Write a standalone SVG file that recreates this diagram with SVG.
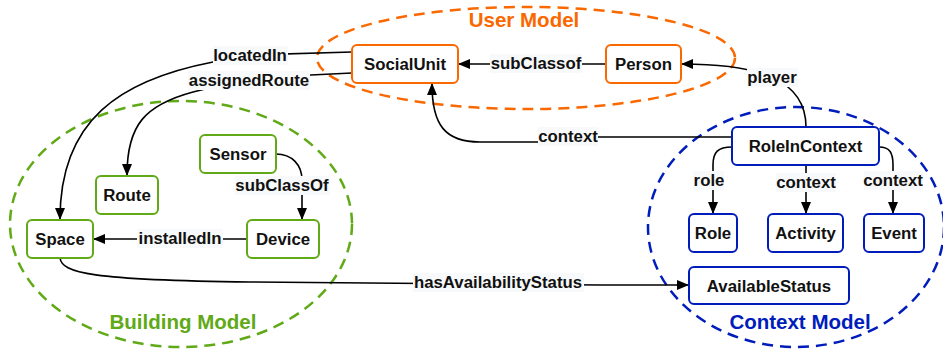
<svg xmlns="http://www.w3.org/2000/svg" width="943" height="352" viewBox="0 0 943 352">
<style>
  .grp { fill: none; stroke-width: 2.5; stroke-dasharray: 11 7; }
  .title { font-family: "Liberation Sans", Arial, sans-serif; font-weight: bold; font-size: 20.5px; text-anchor: middle; }
  .node rect { fill: #ffffff; stroke-width: 2; }
  .node text { font-family: "Liberation Sans", Arial, sans-serif; font-weight: bold; font-size: 16.8px; text-anchor: middle; fill: #111111; }
  .user rect { stroke: #FA6800; }
  .bld rect { stroke: #60A917; }
  .ctx rect { stroke: #001DBC; }
  .edge { fill: none; stroke: #000000; stroke-width: 1.6; }
  .lblbg { fill: #F8F9FA; }
  .lbl { font-family: "Liberation Sans", Arial, sans-serif; font-weight: bold; font-size: 16.8px; text-anchor: middle; fill: #111111; }
</style>
<defs>
  <marker id="arr" markerWidth="12" markerHeight="10" refX="11" refY="5" orient="auto" markerUnits="userSpaceOnUse">
    <path d="M0,0 L12,5 L0,10 Z" fill="#000000"/>
  </marker>
</defs>

<g id="groups">
  <ellipse class="grp" cx="526" cy="58" rx="209" ry="51" stroke="#FA6800"/>
  <text class="title" x="524" y="27" fill="#FA6800">User Model</text>
  <ellipse class="grp" cx="181" cy="224" rx="171" ry="123" stroke="#60A917"/>
  <text class="title" x="183" y="329" fill="#60A917">Building Model</text>
  <ellipse class="grp" cx="796" cy="227" rx="148" ry="120" stroke="#001DBC"/>
  <text class="title" x="800" y="329" fill="#001DBC">Context Model</text>
</g>

<g id="connectors">
  <path class="edge" d="M352 52 L250 55 L213 62 C120 80 60 120 60 219" marker-end="url(#arr)"/>
  <path class="edge" d="M352 73 L250 78 L193 92 C145 105 127 125 127 175" marker-end="url(#arr)"/>
  <path class="edge" d="M606 64 L459 64" marker-end="url(#arr)"/>
  <path class="edge" d="M806 127 C806 80 760 64 682 64" marker-end="url(#arr)"/>
  <path class="edge" d="M732 137 L570 137 L540 142 L480 142 C445 142 432 125 432 84" marker-end="url(#arr)"/>
  <path class="edge" d="M732 147 C718 147 713 152 713 165 L713 213" marker-end="url(#arr)"/>
  <path class="edge" d="M806 165 L806 213" marker-end="url(#arr)"/>
  <path class="edge" d="M879 147 C890 147 893 153 893 165 L893 213" marker-end="url(#arr)"/>
  <path class="edge" d="M276 154 C292 154 302 165 302 180 L302 219" marker-end="url(#arr)"/>
  <path class="edge" d="M247 239 L94 239" marker-end="url(#arr)"/>
  <path class="edge" d="M60 258 C62 273 90 280 250 282 L600 285 L688 285" marker-end="url(#arr)"/>

  <rect class="lblbg" x="213" y="46" width="75" height="19"/>
  <text class="lbl" x="250" y="61">locatedIn</text>
  <rect class="lblbg" x="188" y="71" width="122" height="19"/>
  <text class="lbl" x="249" y="86">assignedRoute</text>
  <rect class="lblbg" x="490" y="54" width="92" height="19"/>
  <text class="lbl" x="536" y="69">subClassof</text>
  <rect class="lblbg" x="747" y="68" width="51" height="19"/>
  <text class="lbl" x="772" y="83">player</text>
  <rect class="lblbg" x="538" y="127" width="60" height="19"/>
  <text class="lbl" x="568" y="142">context</text>
  <rect class="lblbg" x="693" y="171" width="31" height="19"/>
  <text class="lbl" x="709" y="186">role</text>
  <rect class="lblbg" x="776" y="173" width="60" height="19"/>
  <text class="lbl" x="806" y="188">context</text>
  <rect class="lblbg" x="864" y="171" width="59" height="19"/>
  <text class="lbl" x="893" y="186">context</text>
  <rect class="lblbg" x="235" y="176" width="95" height="19"/>
  <text class="lbl" x="282" y="191">subClassOf</text>
  <rect class="lblbg" x="137" y="229" width="86" height="19"/>
  <text class="lbl" x="180" y="244">installedIn</text>
  <rect class="lblbg" x="413" y="273" width="171" height="19"/>
  <text class="lbl" x="498" y="288">hasAvailabilityStatus</text>
</g>

<g id="SocialUnit" class="node user"><rect x="352" y="45" width="106" height="38" rx="5"/><text x="405" y="70">SocialUnit</text></g>
<g id="Person" class="node user"><rect x="606" y="45" width="75" height="38" rx="5"/><text x="643.5" y="70">Person</text></g>
<g id="Sensor" class="node bld"><rect x="200" y="135" width="76" height="38" rx="5"/><text x="238" y="160">Sensor</text></g>
<g id="Route" class="node bld"><rect x="96" y="176" width="62" height="38" rx="5"/><text x="127" y="201">Route</text></g>
<g id="Space" class="node bld"><rect x="27" y="220" width="66" height="38" rx="5"/><text x="60" y="245">Space</text></g>
<g id="Device" class="node bld"><rect x="247" y="220" width="72" height="38" rx="5"/><text x="283" y="245">Device</text></g>
<g id="RoleInContext" class="node ctx"><rect x="732" y="127" width="147" height="38" rx="5"/><text x="805.5" y="152">RoleInContext</text></g>
<g id="Role" class="node ctx"><rect x="689" y="214" width="48" height="38" rx="5"/><text x="713" y="239">Role</text></g>
<g id="Activity" class="node ctx"><rect x="768" y="214" width="75" height="38" rx="5"/><text x="805.5" y="239">Activity</text></g>
<g id="Event" class="node ctx"><rect x="864" y="214" width="60" height="38" rx="5"/><text x="894" y="239">Event</text></g>
<g id="AvailableStatus" class="node ctx"><rect x="689" y="267" width="160" height="37" rx="5"/><text x="769" y="291.5">AvailableStatus</text></g>
</svg>
